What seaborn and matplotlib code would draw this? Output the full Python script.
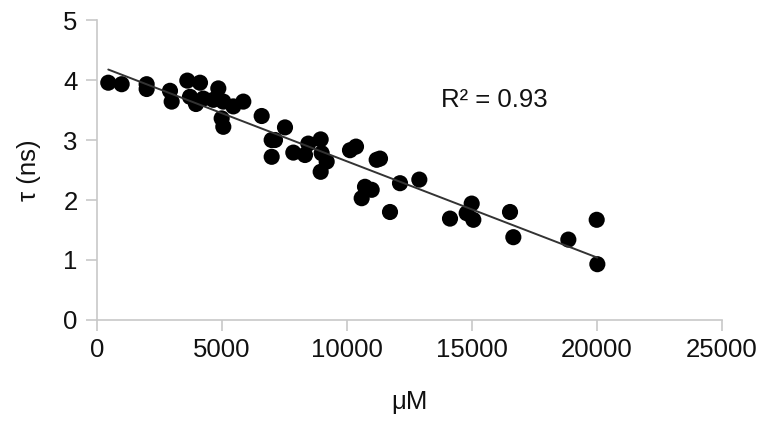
import matplotlib
matplotlib.use("Agg")
import matplotlib.pyplot as plt
import seaborn as sns
import numpy as np
import pandas as pd

conc = [452, 987, 1987, 1987, 2920, 2987, 3613, 4120, 3720, 3960, 4253, 4853,
        4653, 5053, 4987, 5053, 5453, 5853, 6587, 6987, 7520, 6987, 7120,
        7853, 8320, 8453, 8947, 8987, 9187, 8947, 10120, 10360, 11187, 11320,
        12120, 12893, 10720, 10987, 10587, 11720, 14120, 14987, 14787, 15053,
        16520, 16653, 18853, 19987, 20013]
tau = [3.955, 3.93, 3.93, 3.85, 3.82, 3.64, 3.99, 3.955, 3.72, 3.6, 3.69, 3.86,
       3.67, 3.64, 3.36, 3.22, 3.56, 3.64, 3.4, 3.0, 3.21, 2.72, 3.0,
       2.79, 2.75, 2.94, 3.01, 2.78, 2.64, 2.47, 2.83, 2.89, 2.67, 2.69,
       2.28, 2.34, 2.22, 2.17, 2.03, 1.8, 1.69, 1.94, 1.78, 1.67,
       1.8, 1.38, 1.34, 1.67, 0.93]
x_ticks = [0, 5000, 10000, 15000, 20000, 25000]
y_ticks = [0, 1, 2, 3, 4, 5]
r2_label = "R² = 0.93"

df = pd.DataFrame({"conc": conc, "tau": tau})

sns.set_style("white")
plt.rcParams['font.family'] = ['Liberation Sans', 'DejaVu Sans']

fig = plt.figure(figsize=(7.66, 4.24), dpi=100)
ax = fig.add_axes([0.1266, 0.2453, 0.816, 0.7075])

sns.regplot(data=df, x="conc", y="tau", ax=ax, ci=None, truncate=True,
            scatter_kws=dict(s=135, color="black", edgecolor="none", alpha=1, zorder=2),
            line_kws=dict(color="#333333", lw=1.4, zorder=3))

ax.set_xlim(0, 25000)
ax.set_ylim(0, 5)
ax.set_xticks(x_ticks)
ax.set_yticks(y_ticks)
ax.set_xticklabels([str(t) for t in x_ticks])
ax.set_yticklabels([str(t) for t in y_ticks])
ax.tick_params(axis="both", which="major", bottom=True, left=True,
               labelsize=18.5, length=8, width=1.2, color="#c8c8c8",
               direction="out", labelcolor="#111111")
ax.tick_params(axis="x", pad=5)
ax.tick_params(axis="y", pad=6)
for s in ["top", "right"]:
    ax.spines[s].set_visible(False)
for s in ["left", "bottom"]:
    ax.spines[s].set_color("#c8c8c8")
    ax.spines[s].set_linewidth(1.2)
ax.set_xlabel("μM", fontsize=18.5, labelpad=20, color="#111111")
ax.set_ylabel("τ (ns)", fontsize=18.5, labelpad=16, color="#111111")
ax.text(0.636, 0.733, r2_label, transform=ax.transAxes, fontsize=18.5,
        ha="center", va="center", color="#111111")
ax.patch.set_alpha(0)
for c in ax.collections:
    c.set_clip_on(False)

fig.savefig("out.png", dpi=100, facecolor="white")
